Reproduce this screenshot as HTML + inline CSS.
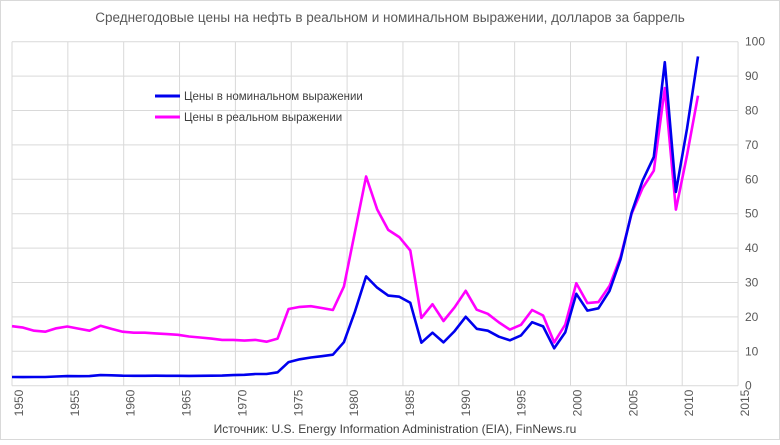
<!DOCTYPE html>
<html><head><meta charset="utf-8"><style>
body{margin:0;background:#fff;}
svg text{font-family:"Liberation Sans",sans-serif;}
</style></head><body>
<svg width="780" height="440" viewBox="0 0 780 440" xmlns="http://www.w3.org/2000/svg">
<rect x="0.5" y="0.5" width="779" height="439" fill="#fff" stroke="#d9d9d9"/>
<text x="390" y="22" text-anchor="middle" font-size="13.5" fill="#595959">Среднегодовые цены на нефть в реальном и номинальном выражении, долларов за баррель</text>
<g id="grid"></g>
<g id="series"></g>
<g id="axes"></g>
<g>
<line x1="155" y1="96" x2="180" y2="96" stroke="#0000ee" stroke-width="3"/>
<text x="184" y="100" font-size="11.5" fill="#404040">Цены в номинальном выражении</text>
<line x1="155" y1="117" x2="180" y2="117" stroke="#ff00ff" stroke-width="3"/>
<text x="184" y="121" font-size="11.5" fill="#404040">Цены в реальном выражении</text>
</g>
<text x="395" y="433" text-anchor="middle" font-size="12" fill="#404040">Источник: U.S. Energy Information Administration (EIA), FinNews.ru</text>
</svg>
<script>
const years=[1949,1950,1951,1952,1953,1954,1955,1956,1957,1958,1959,1960,1961,1962,1963,1964,1965,1966,1967,1968,1969,1970,1971,1972,1973,1974,1975,1976,1977,1978,1979,1980,1981,1982,1983,1984,1985,1986,1987,1988,1989,1990,1991,1992,1993,1994,1995,1996,1997,1998,1999,2000,2001,2002,2003,2004,2005,2006,2007,2008,2009,2010,2011];
const nominal=[2.54,2.51,2.53,2.53,2.68,2.78,2.77,2.79,3.09,3.01,2.90,2.88,2.89,2.90,2.89,2.88,2.86,2.88,2.92,2.94,3.09,3.18,3.39,3.39,3.89,6.87,7.67,8.19,8.57,9.00,12.64,21.59,31.77,28.52,26.19,25.88,24.09,12.51,15.40,12.58,15.86,20.03,16.54,15.99,14.25,13.19,14.62,18.46,17.23,10.87,15.56,26.72,21.84,22.51,27.56,36.77,50.28,59.69,66.52,94.04,56.35,74.71,95.73];
const real=[17.3,16.9,16.0,15.7,16.7,17.2,16.6,16.0,17.4,16.5,15.7,15.4,15.4,15.2,15.0,14.8,14.3,14.0,13.7,13.3,13.3,13.1,13.3,12.8,13.7,22.3,22.9,23.1,22.6,22.0,28.8,44.8,60.8,51.3,45.3,43.2,39.3,19.7,23.7,18.8,22.8,27.6,22.1,20.9,18.4,16.3,17.7,22.0,20.4,12.6,17.8,29.8,24.0,24.3,29.0,37.5,50.0,57.5,62.5,86.5,51.2,67.0,84.3];
const xTicks=[1950,1955,1960,1965,1970,1975,1980,1985,1990,1995,2000,2005,2010,2015];
const yTicks=[0,10,20,30,40,50,60,70,80,90,100];
const NS="http://www.w3.org/2000/svg";
const yS=v=>385.7-v*3.44;
const xGrid=yr=>12+(yr-1950)*11.17;
const xPt=yr=>12+(yr-1949)*11.065;
function mk(t,a,p){const e=document.createElementNS(NS,t);for(const k in a)e.setAttribute(k,a[k]);p.appendChild(e);return e;}
const grid=document.getElementById('grid'),axes=document.getElementById('axes'),ser=document.getElementById('series');
yTicks.forEach(v=>{
 const l=mk('line',{x1:12,x2:738,y1:yS(v),y2:yS(v),stroke:'#d9d9d9','stroke-width':1},grid);
 
 
 const t=mk('text',{x:745,y:yS(v)+4,'font-size':12,fill:'#595959'},axes);
 t.textContent=v;
 
 
});
xTicks.forEach(yr=>{
 const x=xGrid(yr);
 const l=mk('line',{x1:x,x2:x,y1:yS(100),y2:yS(0),stroke:'#d9d9d9','stroke-width':1},grid);
 
 
 const t=mk('text',{x:0,y:0,'font-size':12,fill:'#595959','text-anchor':'middle',transform:`translate(${x+11},403) rotate(-90)`},axes);
 t.textContent=yr;
 
 
});
function line(arr,color,name){
 const d=arr.map((v,i)=>(i?'L':'M')+xPt(years[i]).toFixed(1)+','+yS(v).toFixed(1)).join('');
 const p=mk('path',{d:d,fill:'none',stroke:color,'stroke-width':2.6,'stroke-linejoin':'round'},ser);
 
 
}
line(real,'#ff00ff','real-price-line');
line(nominal,'#0000ee','nominal-price-line');
</script>
</body></html>
